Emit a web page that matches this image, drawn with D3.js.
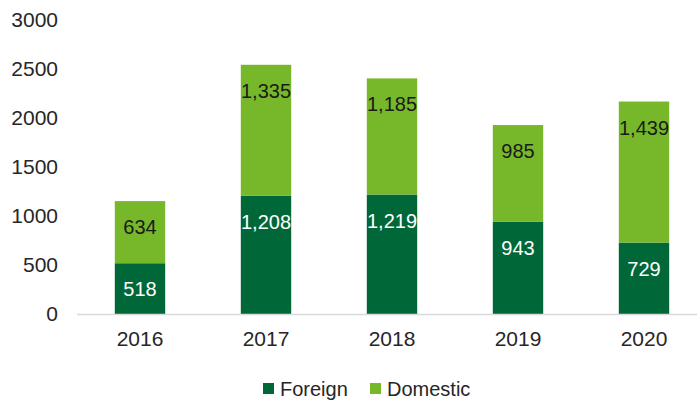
<!DOCTYPE html>
<html>
<head>
<meta charset="utf-8">
<script src="https://cdn.jsdelivr.net/npm/d3@7"></script>
<style>
    body { margin: 0; background: #fff; }
    svg text { font-family: "Liberation Sans", Arial, sans-serif; }
</style>
</head>
<body>
<svg id="chart" width="697" height="400"></svg>
<script>
const years = ["2016", "2017", "2018", "2019", "2020"];
const foreign = [518, 1208, 1219, 943, 729];
const domestic = [634, 1335, 1185, 985, 1439];
const yTicks = [0, 500, 1000, 1500, 2000, 2500, 3000];
const seriesNames = ["Foreign", "Domestic"];
const colors = ["#006838", "#77b82a"];
const labelColors = ["#ffffff", "#1a1a1a"];

const svg = d3.select("#chart");

// scales
const x = d3.scaleBand().domain(years).range([77, 707]).paddingInner(0.6).paddingOuter(0.3);
const y = d3.scaleLinear().domain([0, 3000]).range([314, 20]);

// stack the two series
const rows = years.map((yr, i) => ({ year: yr, Foreign: foreign[i], Domestic: domestic[i] }));
const stacked = d3.stack().keys(seriesNames)(rows);

// y axis labels (no line, no gridlines)
const yAxis = svg.append("g")
    .attr("transform", "translate(58,0)")
    .call(d3.axisLeft(y).tickValues(yTicks).tickSize(0).tickPadding(0).tickFormat(d3.format("d")));
yAxis.select(".domain").remove();
yAxis.selectAll("text").attr("font-size", 21).attr("fill", "#262626");

// bars
const layers = svg.selectAll("g.layer")
    .data(stacked)
    .join("g")
    .attr("class", "layer")
    .attr("fill", (d, i) => colors[i]);

layers.selectAll("rect")
    .data(d => d)
    .join("rect")
    .attr("x", d => x(d.data.year))
    .attr("y", d => y(d[1]))
    .attr("width", x.bandwidth())
    .attr("height", d => y(d[0]) - y(d[1]));

// value labels, inside end of each segment
stacked.forEach((layer, i) => {
    svg.append("g").selectAll("text")
        .data(layer)
        .join("text")
        .attr("x", d => x(d.data.year) + x.bandwidth() / 2)
        .attr("y", d => y(d[1]) + 26)
        .attr("text-anchor", "middle")
        .attr("dominant-baseline", "central")
        .attr("font-size", 20)
        .attr("fill", labelColors[i])
        .text(d => d3.format(",")(d[1] - d[0]));
});

// x axis
const xAxis = svg.append("g")
    .attr("transform", "translate(0,314)")
    .call(d3.axisBottom(x).tickSize(0).tickPadding(17));
xAxis.select(".domain").remove();
xAxis.selectAll("text").attr("font-size", 21).attr("fill", "#262626");
svg.append("line")
    .attr("x1", 77).attr("x2", 697)
    .attr("y1", 314.5).attr("y2", 314.5)
    .attr("stroke", "#d9d9d9")
    .attr("stroke-width", 1.5);

// legend
const legendX = [263, 370];
const legend = svg.append("g");
seriesNames.forEach((name, i) => {
    legend.append("rect")
        .attr("x", legendX[i]).attr("y", 383)
        .attr("width", 11).attr("height", 11)
        .attr("fill", colors[i]);
    legend.append("text")
        .attr("x", legendX[i] + 17).attr("y", 388.5)
        .attr("dominant-baseline", "central")
        .attr("font-size", 20)
        .attr("fill", "#262626")
        .text(name);
});
</script>
</body>
</html>
